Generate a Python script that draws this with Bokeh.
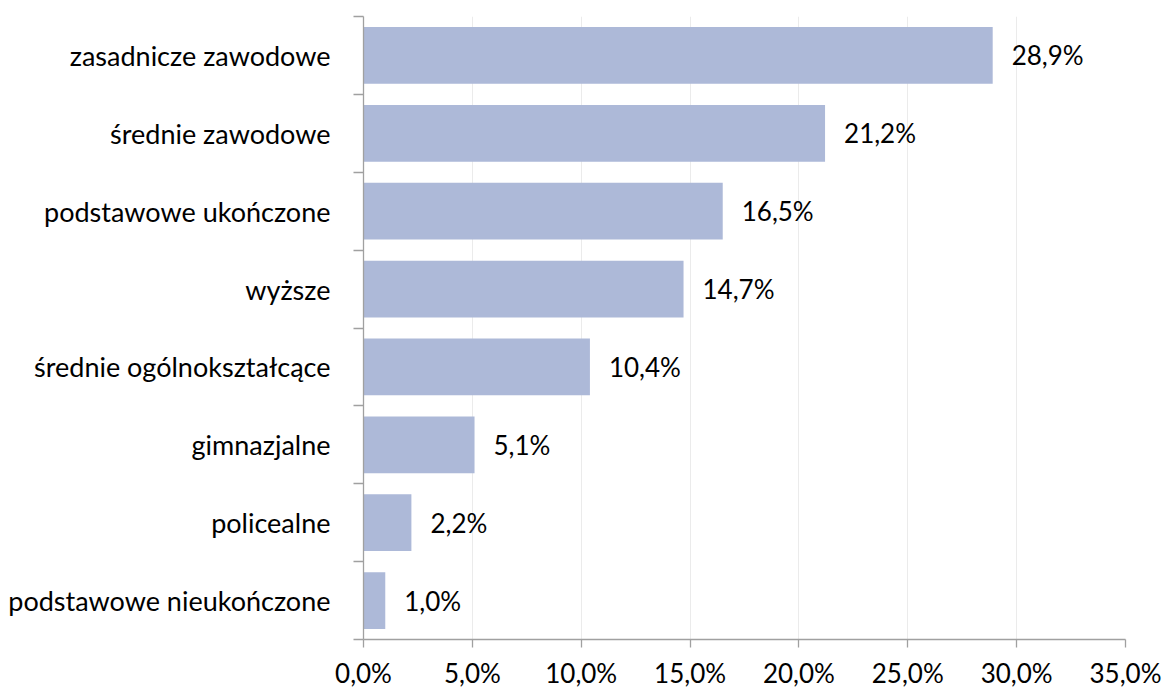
from bokeh.plotting import figure
from bokeh.models import FixedTicker, ColumnDataSource, Range1d
from bokeh.core.properties import value
from bokeh.embed import file_html
from bokeh.resources import INLINE

categories = ["zasadnicze zawodowe", "średnie zawodowe", "podstawowe ukończone", "wyższe",
              "średnie ogólnokształcące", "gimnazjalne", "policealne", "podstawowe nieukończone"]
values = [28.9, 21.2, 16.5, 14.7, 10.4, 5.1, 2.2, 1.0]
value_labels = ["28,9%", "21,2%", "16,5%", "14,7%", "10,4%", "5,1%", "2,2%", "1,0%"]
x_ticks = [0, 5, 10, 15, 20, 25, 30, 35]
x_tick_labels = ["0,0%", "5,0%", "10,0%", "15,0%", "20,0%", "25,0%", "30,0%", "35,0%"]

n = len(categories)
ypos = [n - i - 0.5 for i in range(n)]
boundaries = list(range(n + 1))

FONT = "Lato"
FS = "26px"
FS_CAT = "27px"

src = ColumnDataSource(dict(y=ypos, v=values, lab=value_labels, cat=categories))

p = figure(width=1165, height=691, output_backend="svg", toolbar_location=None,
           x_range=Range1d(0, 35), y_range=Range1d(0, n),
           min_border_left=363, min_border_top=16, min_border_right=40, min_border_bottom=50)
p.outline_line_color = None
p.background_fill_color = "white"

p.hbar(y="y", right="v", left=0, height=0.73, source=src, color="#adb9d8", line_color=None)
p.text(x="v", y="y", text="lab", source=src, x_offset=19, text_align="left",
       text_baseline="middle", text_font=value(FONT), text_font_size=FS, text_color="black")

# x axis
xa = p.xaxis[0]
xa.ticker = FixedTicker(ticks=x_ticks, minor_ticks=[])
xa.major_label_overrides = {t: l for t, l in zip(x_ticks, x_tick_labels)}
xa.axis_line_color = "#a0a0a0"
xa.axis_line_width = 1.3
xa.major_tick_line_color = "#a0a0a0"
xa.major_tick_line_width = 1.3
xa.major_tick_out = 8
xa.major_tick_in = 0
xa.minor_tick_out = 0
xa.major_label_standoff = 9
xa.major_label_text_line_height = 0.6
xa.major_label_text_font = FONT
xa.major_label_text_font_size = FS
xa.major_label_text_color = "black"

# y axis
ya = p.yaxis[0]
ya.ticker = FixedTicker(ticks=ypos, minor_ticks=boundaries)
ya.major_label_overrides = {y: c for y, c in zip(ypos, categories)}
ya.axis_line_color = "#a0a0a0"
ya.axis_line_width = 1.3
ya.major_tick_out = 0
ya.major_tick_in = 0
ya.minor_tick_out = 10
ya.minor_tick_in = 0
ya.minor_tick_line_color = "#a0a0a0"
ya.minor_tick_line_width = 1.3
ya.major_label_standoff = 23
ya.major_label_text_font = FONT
ya.major_label_text_font_size = FS_CAT
ya.major_label_text_color = "black"

p.xgrid.ticker = FixedTicker(ticks=x_ticks)
p.xgrid.grid_line_color = "#ebebeb"
p.xgrid.grid_line_width = 1
p.ygrid.grid_line_color = None

open("out.html", "w").write(file_html(p, INLINE))
